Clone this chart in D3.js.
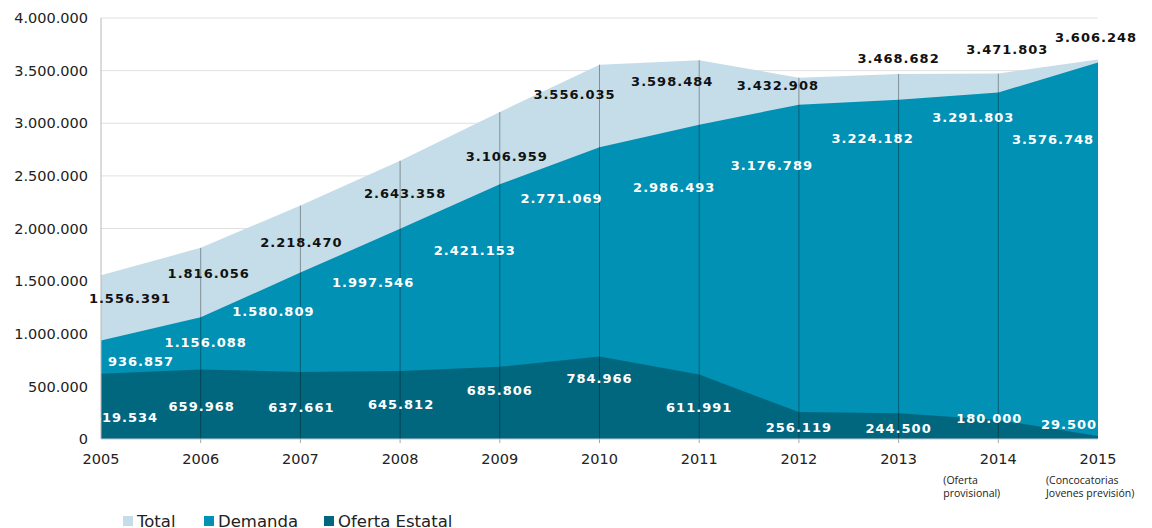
<!DOCTYPE html>
<html>
<head>
<meta charset="utf-8">
<script src="https://cdn.jsdelivr.net/npm/d3@7/dist/d3.min.js"></script>
<style>
  body { margin: 0; background: #fff; }
</style>
</head>
<body>
<div id="my_dataviz"></div>
<script>
var years = [2005, 2006, 2007, 2008, 2009, 2010, 2011, 2012, 2013, 2014, 2015];
var total = [1556391, 1816056, 2218470, 2643358, 3106959, 3556035, 3598484, 3432908, 3468682, 3471803, 3606248];
var demanda = [936857, 1156088, 1580809, 1997546, 2421153, 2771069, 2986493, 3176789, 3224182, 3291803, 3576748];
var oferta = [619534, 659968, 637661, 645812, 685806, 784966, 611991, 256119, 244500, 180000, 29500];
var yTicks = [0, 500000, 1000000, 1500000, 2000000, 2500000, 3000000, 3500000, 4000000];
var seriesNames = ["Total", "Demanda", "Oferta Estatal"];
var notes = [{year: 2014, lines: ["(Oferta", "provisional)"]}, {year: 2015, lines: ["(Concocatorias", "Jovenes previsión)"]}];

// label offsets (px) from each point, placed by hand like in the original
var totalOff = [[29,23],[8,25],[1,37],[5,33],[7,44],[-25,30],[-27,21],[-21,8],[0,-16],[9,-24],[-2,-22]];
var demandaOff = [[40,21],[5,25],[-27,39],[-27,54],[-25,66],[-38,51],[-25,63],[-27,61],[-26,39],[-25,25],[-45,77]];
var ofertaOff = [[24,44],[1,37],[1,35],[1,33],[0,24],[0,22],[0,33],[0,15],[0,15],[-9,-2],[-29,-12]];

var colors = ["#c5dde8", "#0091b4", "#00677f"];

var width = 1152, height = 528;
var margin = {top: 18, right: 54, bottom: 89, left: 101};

var svg = d3.select("#my_dataviz")
    .append("svg")
    .attr("width", width)
    .attr("height", height)
    .style("font-family", "'DejaVu Sans', Verdana, sans-serif");

var x = d3.scaleLinear()
    .domain([2005, 2015])
    .range([margin.left, width - margin.right]);

var y = d3.scaleLinear()
    .domain([0, 4000000])
    .range([height - margin.bottom, margin.top]);

// gridlines
svg.selectAll("grid")
    .data(yTicks.slice(1))
    .enter()
    .append("line")
    .attr("x1", x(2005))
    .attr("x2", x(2015))
    .attr("y1", function(d){ return y(d) })
    .attr("y2", function(d){ return y(d) })
    .attr("stroke", "#e0e0e0")
    .attr("stroke-width", 1)

var area = d3.area()
    .x(function(d, i){ return x(years[i]) })
    .y0(y(0))
    .y1(function(d){ return y(d) })

var series = [total, demanda, oferta];
series.forEach(function(s, k){
    svg.append("path")
        .datum(s)
        .attr("d", area)
        .attr("fill", colors[k])
});

// year lines
svg.selectAll("ylines")
    .data(years.slice(1, years.length - 1))
    .enter()
    .append("line")
    .attr("x1", function(d){ return x(d) })
    .attr("x2", function(d){ return x(d) })
    .attr("y1", function(d){ return y(total[years.indexOf(d)]) })
    .attr("y2", y(0) + 4)
    .attr("stroke", "rgba(0,0,0,0.35)")
    .attr("stroke-width", 1)

// axes lines
svg.append("line")
    .attr("x1", x(2005)).attr("x2", x(2005))
    .attr("y1", y(4000000)).attr("y2", y(0))
    .attr("stroke", "#b8b8b8")
svg.append("line")
    .attr("x1", x(2005)).attr("x2", x(2015))
    .attr("y1", y(0)).attr("y2", y(0))
    .attr("stroke", "#c8c8c8")

var fmt = function(v){ return d3.format(",")(v).replace(/,/g, ".") };

svg.selectAll("ylab")
    .data(yTicks)
    .enter()
    .append("text")
    .attr("x", x(2005) - 13)
    .attr("y", function(d){ return y(d) })
    .attr("dy", "0.36em")
    .attr("text-anchor", "end")
    .attr("font-size", "14.5px")
    .attr("fill", "#222")
    .text(fmt)

svg.selectAll("xlab")
    .data(years)
    .enter()
    .append("text")
    .attr("x", function(d){ return x(d) })
    .attr("y", 464)
    .attr("text-anchor", "middle")
    .attr("font-size", "14.5px")
    .attr("fill", "#222")
    .text(function(d){ return d })

// value labels
var offs = [totalOff, demandaOff, ofertaOff];
var labelColors = ["#111", "#fff", "#fff"];
series.forEach(function(s, k){
    svg.selectAll("vals" + k)
        .data(s)
        .enter()
        .append("text")
        .attr("x", function(d, i){ return x(years[i]) + offs[k][i][0] })
        .attr("y", function(d, i){ return y(d) + offs[k][i][1] })
        .attr("dy", "0.36em")
        .attr("text-anchor", "middle")
        .attr("font-size", "13px")
        .attr("font-weight", "bold")
        .attr("letter-spacing", "1px")
        .attr("fill", labelColors[k])
        .text(fmt)
});

// notes under 2014 / 2015
notes.forEach(function(n){
    var t = svg.append("text")
        .attr("x", x(n.year) - 55 + (n.year == 2014 ? 0 : 3))
        .attr("y", 484)
        .attr("font-family", "'Open Sans', sans-serif")
        .attr("font-size", "10.5px")
        .attr("fill", "#222")
    n.lines.forEach(function(l, i){
        t.append("tspan")
            .attr("x", x(n.year) + (n.year == 2014 ? -55 : -52))
            .attr("dy", i == 0 ? 0 : 13)
            .text(l)
    });
});

// legend
var legX = [123, 204, 324];
seriesNames.forEach(function(name, k){
    svg.append("rect")
        .attr("x", legX[k])
        .attr("y", 516)
        .attr("width", 10)
        .attr("height", 10)
        .attr("fill", colors[k])
    svg.append("text")
        .attr("x", legX[k] + 14)
        .attr("y", 527)
        .attr("font-size", "16.5px")
        .attr("fill", "#222")
        .text(name)
});
</script>
</body>
</html>
